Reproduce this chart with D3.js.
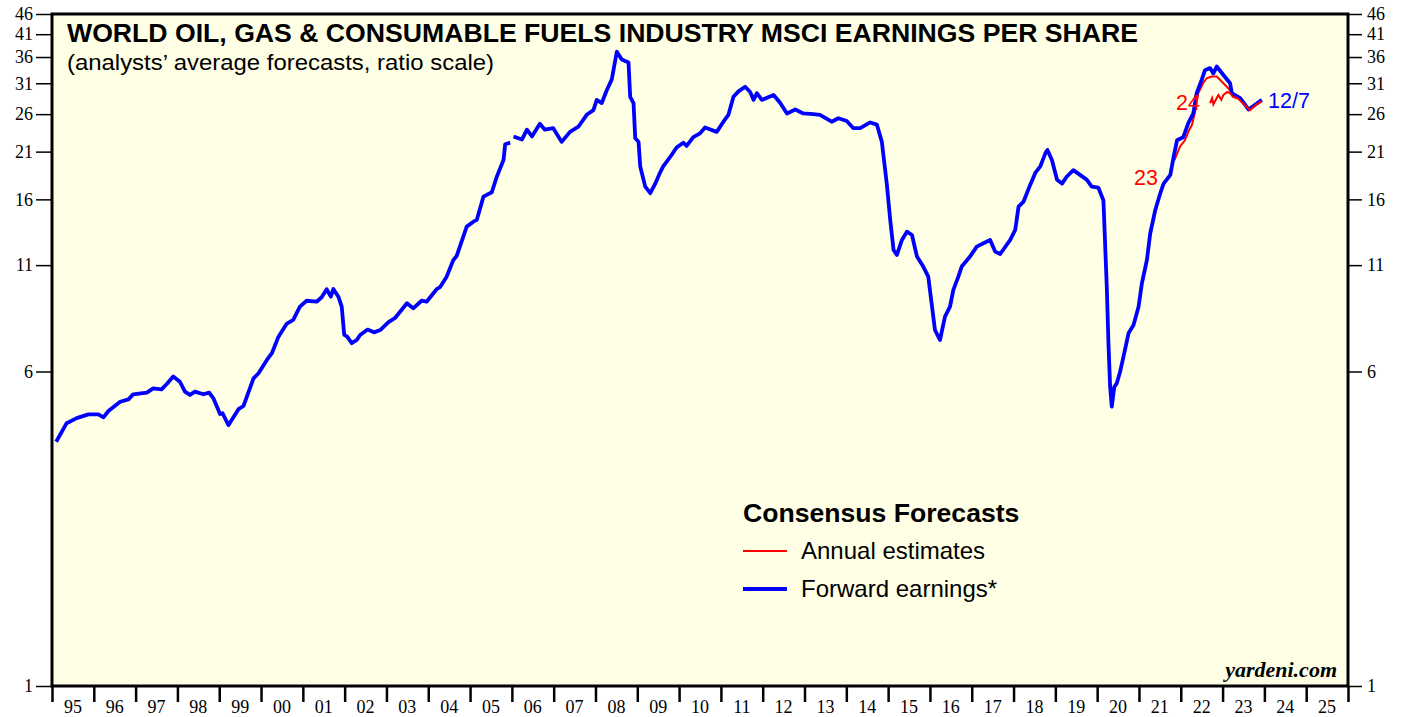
<!DOCTYPE html>
<html lang="en">
<head>
    <meta charset="UTF-8">
    <title>World Oil, Gas & Consumable Fuels EPS</title>
    <script src="https://d3js.org/d3.v7.min.js"></script>
    <style>
        body { margin: 0; background: #ffffff; }
        svg { display: block; }
    </style>
</head>
<body>
    <svg width="1407" height="717"></svg>

    <script>
        // Forward earnings (blue), [decimal year, value], null marks a gap in the line
        const forwardEarnings = [
            [1995.10, 4.02], [1995.35, 4.47], [1995.59, 4.60], [1995.87, 4.70], [1996.11, 4.70],
            [1996.23, 4.62], [1996.35, 4.79], [1996.63, 5.05], [1996.83, 5.12], [1996.94, 5.27],
            [1997.27, 5.32], [1997.42, 5.45], [1997.62, 5.42], [1997.74, 5.58], [1997.90, 5.83],
            [1998.06, 5.66], [1998.18, 5.35], [1998.30, 5.25], [1998.42, 5.35], [1998.62, 5.27],
            [1998.76, 5.32], [1998.86, 5.15], [1999.02, 4.71], [1999.08, 4.73], [1999.22, 4.42],
            [1999.46, 4.84], [1999.58, 4.93], [1999.82, 5.77], [1999.94, 5.94], [2000.14, 6.41],
            [2000.26, 6.66], [2000.41, 7.29], [2000.61, 7.87], [2000.77, 8.05], [2000.93, 8.68],
            [2001.09, 8.98], [2001.33, 8.93], [2001.45, 9.16], [2001.57, 9.59], [2001.67, 9.19],
            [2001.73, 9.60], [2001.85, 9.19], [2001.93, 8.68], [2001.99, 7.39], [2002.06, 7.32],
            [2002.17, 7.05], [2002.29, 7.18], [2002.37, 7.39], [2002.55, 7.62], [2002.70, 7.50],
            [2002.85, 7.60], [2003.05, 7.95], [2003.20, 8.13], [2003.49, 8.85], [2003.64, 8.60],
            [2003.84, 8.98], [2003.96, 8.93], [2004.20, 9.59], [2004.28, 9.70], [2004.44, 10.30],
            [2004.60, 11.33], [2004.68, 11.59], [2004.92, 13.70], [2005.08, 14.09], [2005.16, 14.23],
            [2005.32, 16.25], [2005.52, 16.66], [2005.64, 18.21], [2005.80, 20.03], [2005.84, 21.9],
            [2005.96, 22.1], [2006.00, null], [2006.04, 22.9], [2006.24, 22.5], [2006.36, 23.8],
            [2006.48, 22.9], [2006.67, 24.6], [2006.79, 23.8], [2006.99, 24.0], [2007.19, 22.2],
            [2007.39, 23.5], [2007.59, 24.2], [2007.79, 25.9], [2007.95, 26.6], [2008.03, 28.2],
            [2008.15, 27.7], [2008.27, 29.8], [2008.39, 31.7], [2008.51, 37.1], [2008.63, 35.5],
            [2008.79, 34.9], [2008.83, 28.7], [2008.91, 27.7], [2008.95, 22.7], [2009.03, 22.2],
            [2009.07, 19.3], [2009.19, 17.2], [2009.31, 16.57], [2009.43, 17.5], [2009.53, 18.5],
            [2009.62, 19.3], [2009.82, 20.6], [2009.94, 21.5], [2010.10, 22.1], [2010.18, 21.7],
            [2010.34, 22.8], [2010.50, 23.3], [2010.62, 24.1], [2010.90, 23.5], [2011.06, 24.9],
            [2011.18, 25.9], [2011.30, 28.7], [2011.42, 29.6], [2011.58, 30.4], [2011.70, 29.5],
            [2011.78, 28.2], [2011.86, 29.3], [2011.98, 28.2], [2012.26, 29.0], [2012.42, 27.7],
            [2012.58, 26.1], [2012.78, 26.7], [2012.97, 26.1], [2013.21, 26.0], [2013.37, 25.9],
            [2013.65, 24.9], [2013.81, 25.4], [2014.01, 25.0], [2014.17, 24.0], [2014.33, 24.0],
            [2014.57, 24.8], [2014.73, 24.5], [2014.85, 22.2], [2014.97, 17.4], [2015.05, 14.23],
            [2015.13, 11.99], [2015.21, 11.66], [2015.33, 12.70], [2015.45, 13.31], [2015.57, 13.06],
            [2015.69, 11.55], [2015.84, 10.91], [2015.96, 10.30], [2016.04, 8.85], [2016.12, 7.60],
            [2016.24, 7.18], [2016.36, 8.20], [2016.48, 8.68], [2016.56, 9.55], [2016.68, 10.30],
            [2016.76, 10.91], [2016.96, 11.55], [2017.12, 12.22], [2017.28, 12.46], [2017.44, 12.70],
            [2017.56, 11.88], [2017.68, 11.72], [2017.92, 12.70], [2018.04, 13.44], [2018.12, 15.35],
            [2018.24, 15.80], [2018.40, 17.4], [2018.52, 18.6], [2018.64, 19.3], [2018.76, 20.8],
            [2018.81, 21.2], [2018.92, 20.0], [2019.04, 17.9], [2019.16, 17.5], [2019.27, 18.2],
            [2019.43, 18.9], [2019.59, 18.4], [2019.75, 17.9], [2019.87, 17.2], [2020.03, 17.1],
            [2020.15, 15.9], [2020.23, 9.73], [2020.27, 7.05], [2020.31, 5.50], [2020.35, 4.91],
            [2020.41, 5.50], [2020.47, 5.61], [2020.55, 6.00], [2020.63, 6.53], [2020.75, 7.46],
            [2020.87, 7.82], [2020.99, 8.68], [2021.07, 9.92], [2021.19, 11.33], [2021.27, 13.19],
            [2021.39, 15.06], [2021.51, 16.57], [2021.59, 17.5], [2021.75, 18.4], [2021.83, 20.4],
            [2021.91, 22.4], [2022.06, 22.8], [2022.18, 24.7], [2022.30, 26.1], [2022.38, 29.3],
            [2022.50, 31.6], [2022.58, 33.4], [2022.70, 33.8], [2022.78, 32.8], [2022.86, 34.1],
            [2023.02, 32.5], [2023.18, 31.0], [2023.22, 29.3], [2023.42, 28.5], [2023.62, 26.7],
            [2023.77, 27.4], [2023.94, 28.2]
        ];

        // Annual consensus estimates (red)
        const annual2023 = [
            [2021.85, 20.0], [2021.98, 21.6], [2022.10, 22.4], [2022.18, 23.5], [2022.27, 24.5],
            [2022.35, 26.6], [2022.42, 29.3], [2022.54, 31.1], [2022.62, 31.9], [2022.74, 32.2],
            [2022.86, 32.2], [2022.98, 31.3], [2023.10, 30.4], [2023.18, 29.8], [2023.22, 29.2],
            [2023.42, 28.4], [2023.62, 26.6], [2023.77, 27.3], [2023.94, 28.1]
        ];
        const annual2024 = [
            [2022.70, 27.7], [2022.75, 28.5], [2022.78, 27.5], [2022.90, 29.0], [2022.97, 28.2],
            [2023.02, 29.0], [2023.11, 29.5], [2023.18, 29.3], [2023.25, 28.7], [2023.37, 28.4],
            [2023.54, 27.3], [2023.66, 26.6], [2023.77, 27.3], [2023.94, 28.0]
        ];

        const yTicks = [1, 6, 11, 16, 21, 26, 31, 36, 41, 46];
        const years = d3.range(1995, 2026);

        const svg = d3.select("svg");
        const plotLeft = 52, plotRight = 1348, plotTop = 14, plotBottom = 686;

        const x = d3.scaleLinear().domain([1995, 2026]).range([plotLeft, plotRight]);
        const y = d3.scaleLog().domain([1, 46]).range([plotBottom, plotTop]);

        const serif = "'Liberation Serif', 'Times New Roman', serif";
        const sans = "'Liberation Sans', Arial, sans-serif";

        // plot background
        svg.append("rect")
           .attr("x", plotLeft).attr("y", plotTop)
           .attr("width", plotRight - plotLeft).attr("height", plotBottom - plotTop)
           .attr("fill", "#ffffe6");

        // y axes, left and right
        const yLeft = svg.append("g")
           .attr("transform", `translate(${plotLeft},0)`)
           .call(d3.axisLeft(y).tickValues(yTicks).tickFormat(d3.format("d")).tickSize(16).tickPadding(3));
        const yRight = svg.append("g")
           .attr("transform", `translate(${plotRight},0)`)
           .call(d3.axisRight(y).tickValues(yTicks).tickFormat(d3.format("d")).tickSize(14).tickPadding(5));
        [yLeft, yRight].forEach(g => {
            g.select(".domain").remove();
            g.selectAll("line").attr("stroke", "#000").attr("stroke-width", 1.5);
            g.selectAll("text")
             .attr("fill", "#000")
             .style("font-family", serif)
             .style("font-size", "18px");
        });

        // x axis: ticks at year boundaries, labels centred in each year
        const xAxis = svg.append("g")
           .attr("transform", `translate(0,${plotBottom})`)
           .call(d3.axisBottom(x).tickValues(d3.range(1995, 2027)).tickFormat("").tickSize(16));
        xAxis.select(".domain").remove();
        xAxis.selectAll("line").attr("stroke", "#000").attr("stroke-width", 2.5);

        svg.append("g").selectAll("text")
           .data(years)
           .enter()
           .append("text")
           .attr("x", d => x(d + 0.5))
           .attr("y", plotBottom + 27)
           .attr("text-anchor", "middle")
           .style("font-family", serif)
           .style("font-size", "18px")
           .text(d => String(d % 100).padStart(2, "0"));

        // lines
        const line = d3.line()
           .defined(d => d[1] != null)
           .x(d => x(d[0]))
           .y(d => y(d[1]));

        svg.append("path")
           .datum(annual2023)
           .attr("fill", "none")
           .attr("stroke", "#ff0000")
           .attr("stroke-width", 2)
           .attr("d", line);

        svg.append("path")
           .datum(forwardEarnings)
           .attr("fill", "none")
           .attr("stroke", "#0000ff")
           .attr("stroke-width", 3.8)
           .attr("stroke-linejoin", "round")
           .attr("d", line);

        svg.append("path")
           .datum(annual2024)
           .attr("fill", "none")
           .attr("stroke", "#ff0000")
           .attr("stroke-width", 2)
           .attr("d", line);

        // plot border
        svg.append("rect")
           .attr("x", plotLeft).attr("y", plotTop)
           .attr("width", plotRight - plotLeft).attr("height", plotBottom - plotTop)
           .attr("fill", "none")
           .attr("stroke", "#000")
           .attr("stroke-width", 3);

        // title
        svg.append("text")
           .attr("x", 67).attr("y", 42)
           .attr("textLength", 1071)
           .attr("lengthAdjust", "spacingAndGlyphs")
           .style("font-family", sans)
           .style("font-size", "25px")
           .style("font-weight", "bold")
           .text("WORLD OIL, GAS & CONSUMABLE FUELS INDUSTRY MSCI EARNINGS PER SHARE");

        svg.append("text")
           .attr("x", 67).attr("y", 70)
           .attr("textLength", 427)
           .attr("lengthAdjust", "spacingAndGlyphs")
           .style("font-family", sans)
           .style("font-size", "22px")
           .text("(analysts\u2019 average forecasts, ratio scale)");

        // series labels
        svg.append("text")
           .attr("x", 1134).attr("y", 185)
           .attr("fill", "#ff0000")
           .style("font-family", sans).style("font-size", "21.5px")
           .text("23");
        svg.append("text")
           .attr("x", 1176).attr("y", 110)
           .attr("fill", "#ff0000")
           .style("font-family", sans).style("font-size", "21.5px")
           .text("24");
        svg.append("text")
           .attr("x", 1268).attr("y", 108)
           .attr("fill", "#0000ff")
           .style("font-family", sans).style("font-size", "21.5px")
           .text("12/7");

        // legend
        svg.append("text")
           .attr("x", 743).attr("y", 522)
           .style("font-family", sans)
           .style("font-size", "26.6px")
           .style("font-weight", "bold")
           .text("Consensus Forecasts");

        const legend = [
            { label: "Annual estimates", color: "#ff0000", width: 2, y: 551 },
            { label: "Forward earnings*", color: "#0000ff", width: 3.8, y: 589 }
        ];
        legend.forEach(d => {
            svg.append("line")
               .attr("x1", 743).attr("x2", 787)
               .attr("y1", d.y).attr("y2", d.y)
               .attr("stroke", d.color)
               .attr("stroke-width", d.width);
            svg.append("text")
               .attr("x", 801).attr("y", d.y + 8)
               .style("font-family", sans)
               .style("font-size", "24px")
               .text(d.label);
        });

        svg.append("text")
           .attr("x", 1337).attr("y", 677)
           .attr("text-anchor", "end")
           .style("font-family", serif)
           .style("font-size", "22px")
           .style("font-weight", "bold")
           .style("font-style", "italic")
           .text("yardeni.com");
    </script>
</body>
</html>
